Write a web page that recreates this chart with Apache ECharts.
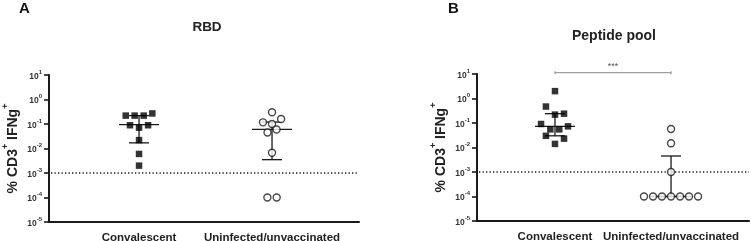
<!DOCTYPE html>
<html>
<head>
<meta charset="utf-8">
<script src="https://cdn.jsdelivr.net/npm/echarts@6/dist/echarts.min.js"></script>
<style>
html, body { margin: 0; padding: 0; background: #fff; }
#chart { width: 751px; height: 241px; }
</style>
</head>
<body>
<div id="chart"></div>
<script>
// categories on both panels
var categories = ['Convalescent', 'Uninfected/unvaccinated'];
// y tick values (log decades)
var yTicks = [1e-5, 1e-4, 1e-3, 1e-2, 1e-1, 1, 10];

// each point: [jitter (category units), % CD3+ IFNg+]
var rbdConvalescent = [[-0.1, 0.22], [-0.033, 0.22], [0.035, 0.22], [0.1, 0.27], [-0.068, 0.089], [0.068, 0.089],
    [0, 0.071], [0, 0.022], [0, 0.006], [0, 0.002]];
var rbdUninfected = [[0, 0.30], [-0.068, 0.117], [0.068, 0.16], [0, 0.10], [0.034, 0.06], [-0.034, 0.045],
    [0, 0.0067], [-0.035, 0.0001], [0.035, 0.0001]];
var pepConvalescent = [[0, 2.0], [-0.078, 0.47], [0, 0.22], [0.078, 0.24], [-0.12, 0.091], [0.112, 0.073],
    [-0.04, 0.055], [0.037, 0.055], [-0.078, 0.030], [0.078, 0.023], [0, 0.014]];
var pepUninfected = [[0, 0.057], [0, 0.015], [0, 0.001], [-0.233, 0.0001], [-0.155, 0.0001], [-0.078, 0.0001],
    [0, 0.0001], [0.078, 0.0001], [0.155, 0.0001], [0.233, 0.0001]];

// median and interquartile range per category
var rbdMedian = [0.094, 0.06];
var rbdLow = [0.017, 0.0035];
var rbdHigh = [0.22, 0.12];
var pepMedian = [0.073, 0.0001];
var pepLow = [0.030, 0.0001];
var pepHigh = [0.24, 0.0045];

var limitOfDetection = 0.001;
var significance = { from: 0, to: 1, level: 11.3, text: '***' };

var font = "'Liberation Sans', Arial, sans-serif";
var ink = '#1a1a1a';

function to_points(cat, pts) {
    return pts.map(function (p) { return [cat + p[0], p[1]] });
}

function stat_rows(median, low, high) {
    return median.map(function (m, i) { return [i, m, low[i], high[i]] });
}

function render_errbar(params, api) {
    var x = api.value(0);
    var pm = api.coord([x, api.value(1)]);
    var pl = api.coord([x, api.value(2)]);
    var ph = api.coord([x, api.value(3)]);
    var style = { stroke: ink, lineWidth: 1.3, fill: null };
    return {
        type: 'group',
        children: [
            { type: 'line', shape: { x1: pm[0] - 20, y1: pm[1], x2: pm[0] + 20, y2: pm[1] }, style: style },
            { type: 'line', shape: { x1: pl[0], y1: pl[1], x2: ph[0], y2: ph[1] }, style: style },
            { type: 'line', shape: { x1: pl[0] - 10, y1: pl[1], x2: pl[0] + 10, y2: pl[1] }, style: style },
            { type: 'line', shape: { x1: ph[0] - 10, y1: ph[1], x2: ph[0] + 10, y2: ph[1] }, style: style }
        ]
    };
}

// dotted detection-limit line across the whole plot area
function render_lod(params, api) {
    var cs = params.coordSys;
    var y = api.coord([0, api.value(0)])[1];
    return {
        type: 'line',
        shape: { x1: cs.x + 2, y1: y, x2: cs.x + cs.width, y2: y },
        style: { stroke: ink, lineWidth: 1.3, lineDash: [1.3, 2.2], fill: null }
    };
}

function render_sig(params, api) {
    var a = api.coord([api.value(0), api.value(2)]);
    var b = api.coord([api.value(1), api.value(2)]);
    var style = { stroke: '#8a8a8a', lineWidth: 1, fill: null };
    return {
        type: 'group',
        children: [
            { type: 'line', shape: { x1: a[0], y1: a[1], x2: b[0], y2: b[1] }, style: style },
            { type: 'line', shape: { x1: a[0], y1: a[1] - 1.5, x2: a[0], y2: a[1] + 1.5 }, style: style },
            { type: 'line', shape: { x1: b[0], y1: b[1] - 1.5, x2: b[0], y2: b[1] + 1.5 }, style: style },
            {
                type: 'text', x: (a[0] + b[0]) / 2, y: a[1] - 2,
                style: { text: significance.text, fill: '#555', font: '9px ' + font, align: 'center', verticalAlign: 'bottom' }
            }
        ]
    };
}

function make_xaxis(grid, min, max) {
    return {
        type: 'value', gridIndex: grid, min: min, max: max,
        splitLine: { show: false },
        axisLine: { show: true, onZero: false, lineStyle: { color: ink, width: 2 } },
        axisTick: { show: false },
        axisLabel: {
            customValues: [0, 1], margin: 10, color: '#222',
            fontFamily: font, fontWeight: 'bold', fontSize: 11.5,
            formatter: function (v) { return categories[Math.round(v)] }
        }
    };
}

function make_yaxis(grid) {
    return {
        type: 'log', logBase: 10, gridIndex: grid, min: 1e-5, max: 10,
        splitLine: { show: false },
        axisLine: { show: true, onZero: false, lineStyle: { color: ink, width: 2 } },
        axisTick: { show: true, inside: false, length: 5, customValues: yTicks, lineStyle: { color: ink, width: 1.6 } },
        axisLabel: {
            margin: 7,
            customValues: yTicks,
            formatter: function (v) {
                return '{b|10}{s|' + Math.round(Math.log10(v)) + '}';
            },
            rich: {
                b: { fontFamily: font, fontWeight: 'bold', fontSize: 8.5, color: '#333', lineHeight: 12, verticalAlign: 'bottom' },
                s: { fontFamily: font, fontWeight: 'bold', fontSize: 6, color: '#333', lineHeight: 12, verticalAlign: 'top' }
            }
        },
        name: '{m|% CD3}{s|+}{m| IFNg}{s|+}',
        nameLocation: 'middle', nameRotate: 90, nameGap: 29,
        nameTextStyle: {
            rich: {
                m: { fontFamily: font, fontWeight: 'bold', fontSize: 14, color: '#222', lineHeight: 19, verticalAlign: 'bottom' },
                s: { fontFamily: font, fontWeight: 'bold', fontSize: 9, color: '#222', lineHeight: 19, verticalAlign: 'top' }
            }
        }
    };
}

function scatter(axis, data, symbol) {
    var open = symbol === 'circle';
    return {
        type: 'scatter', xAxisIndex: axis, yAxisIndex: axis, z: 3,
        symbol: symbol, symbolSize: open ? 7 : 6.5,
        itemStyle: open ? { color: '#fff', borderColor: ink, borderWidth: 1.4 } : { color: '#000' },
        data: data
    };
}

function lod_line(axis) {
    return {
        type: 'custom', xAxisIndex: axis, yAxisIndex: axis, z: 1, silent: true,
        renderItem: render_lod, encode: { y: 0 },
        data: [[limitOfDetection]]
    };
}

var chart = echarts.init(document.getElementById('chart'));
chart.setOption({
    animation: false,
    backgroundColor: '#fff',
    title: [
        { text: 'A', left: 19, top: 1, padding: 0, textStyle: { fontFamily: font, fontWeight: 'bold', fontSize: 15, color: '#111' } },
        { text: 'B', left: 448, top: 1, padding: 0, textStyle: { fontFamily: font, fontWeight: 'bold', fontSize: 15, color: '#111' } },
        { text: 'RBD', left: 207, top: 20, padding: 0, textAlign: 'center', textStyle: { fontFamily: font, fontWeight: 'bold', fontSize: 13.5, color: '#222' } },
        { text: 'Peptide pool', left: 614, top: 29, padding: 0, textAlign: 'center', textStyle: { fontFamily: font, fontWeight: 'bold', fontSize: 14, color: '#222' } }
    ],
    grid: [
        { left: 49, top: 75, width: 310, height: 147, outerBoundsMode: 'none' },
        { left: 477, top: 74, width: 272, height: 147, outerBoundsMode: 'none' }
    ],
    xAxis: [make_xaxis(0, -0.677, 1.654), make_xaxis(1, -0.672, 1.672)],
    yAxis: [make_yaxis(0), make_yaxis(1)],
    series: [
        lod_line(0),
        {
            type: 'custom', xAxisIndex: 0, yAxisIndex: 0, z: 2,
            renderItem: render_errbar, encode: { x: 0, y: [1, 2, 3] },
            data: stat_rows(rbdMedian, rbdLow, rbdHigh)
        },
        scatter(0, to_points(0, rbdConvalescent), 'rect'),
        scatter(0, to_points(1, rbdUninfected), 'circle'),
        lod_line(1),
        {
            type: 'custom', xAxisIndex: 1, yAxisIndex: 1, z: 2,
            renderItem: render_errbar, encode: { x: 0, y: [1, 2, 3] },
            data: stat_rows(pepMedian, pepLow, pepHigh)
        },
        scatter(1, to_points(0, pepConvalescent), 'rect'),
        scatter(1, to_points(1, pepUninfected), 'circle'),
        {
            type: 'custom', xAxisIndex: 1, yAxisIndex: 1, z: 4, clip: false,
            renderItem: render_sig, encode: { x: [0, 1], y: 2 },
            data: [[significance.from, significance.to, significance.level]]
        }
    ]
});
</script>
</body>
</html>
